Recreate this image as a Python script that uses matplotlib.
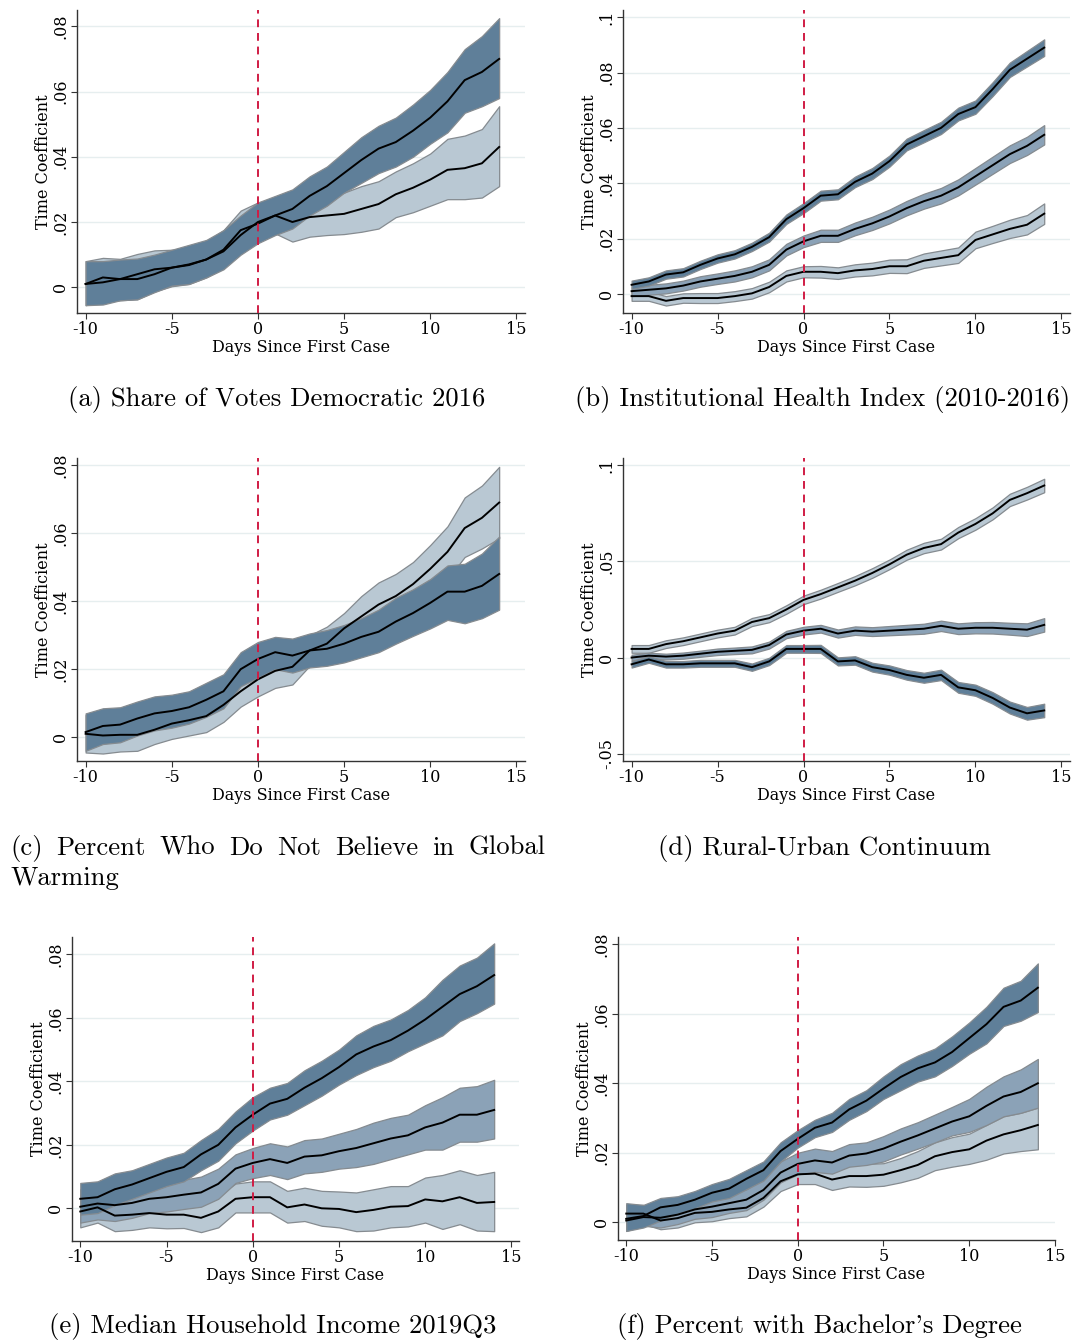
import matplotlib
matplotlib.use("Agg")
import matplotlib.pyplot as plt
import numpy as np

W, H = 1074, 1343

days = list(range(-10, 15))

DARK = "#5f7f99"
MED = "#8ba2b7"
LIGHT = "#b9c8d3"
EDGE = "#858b90"
RED = "#d01c44"

# ---- (a) Share of Votes Democratic 2016 ----
a_dark_mean = [.001, .0015, .0025, .004, .0055, .006, .007, .0085, .011, .016, .020, .022, .024,
               .028, .031, .035, .039, .0425, .0445, .048, .052, .057, .0635, .066, .070]
a_dark_hi = [.008, .008, .0085, .0088, .010, .0115, .013, .0145, .0175, .022, .026, .028, .030,
             .034, .037, .0415, .046, .0495, .052, .056, .0605, .066, .073, .077, .0825]
a_dark_lo = [-.0055, -.0053, -.004, -.0037, -.0015, .0005, .001, .003, .0055, .010, .0135, .016, .018,
             .022, .025, .029, .032, .035, .037, .040, .044, .0475, .0535, .0555, .058]
a_light_mean = [.001, .003, .0025, .0025, .004, .006, .0068, .0085, .0115, .0175, .0195, .022, .020,
                .0215, .022, .0225, .024, .0255, .0285, .0305, .033, .036, .0365, .038, .043]
a_light_hi = [.008, .009, .0087, .0102, .0113, .0115, .0118, .014, .0175, .0235, .026, .027, .0245,
              .026, .0275, .029, .031, .0325, .0355, .038, .041, .0455, .0465, .0485, .0555]
a_light_lo = [-.0055, -.0045, -.004, -.0037, -.0013, .0003, .001, .003, .0058, .011, .014, .0165, .014,
              .0155, .016, .0163, .017, .018, .0215, .023, .025, .027, .027, .0275, .031]

# ---- (b) Institutional Health Index (2010-2016) ----
b_top_mean = [.0033, .0045, .007, .0078, .0105, .0128, .0143, .017, .0205, .027, .031, .0355, .036,
              .0405, .0435, .048, .054, .057, .060, .065, .0675, .074, .081, .085, .089]
b_top_se = [.0015, .0015, .0015, .0015, .0015, .0015, .0015, .0015, .0016, .0017, .0018, .0018, .0018,
            .0019, .002, .002, .0021, .0022, .0022, .0023, .0024, .0025, .0026, .0028, .003]
b_mid_mean = [.001, .0015, .002, .003, .0045, .0055, .0065, .008, .0105, .016, .019, .021, .021,
              .0235, .0255, .028, .031, .0335, .0355, .0385, .0425, .0465, .0505, .0535, .0575]
b_mid_se = [.0018, .0018, .0018, .0018, .0019, .0019, .002, .002, .002, .0021, .0021, .0022, .0022,
            .0023, .0024, .0025, .0026, .0027, .0028, .0029, .003, .0031, .0032, .0033, .0035]
b_low_mean = [-.0008, -.0008, -.0025, -.0015, -.0015, -.0015, -.0008, .0002, .0025, .0065, .008, .008, .0075,
              .0085, .009, .010, .010, .012, .013, .014, .0195, .0215, .0235, .025, .029]
b_low_se = [.0017, .0017, .0017, .0017, .0018, .0018, .0018, .0019, .0019, .002, .002, .0021, .0021,
            .0022, .0023, .0024, .0025, .0026, .0027, .0028, .003, .0031, .0033, .0035, .0037]

# ---- (c) Percent Who Do Not Believe in Global Warming ----
c_dark_mean = [.0015, .0033, .0037, .0055, .007, .0077, .0088, .011, .0135, .020, .023, .025, .024,
               .0255, .026, .0275, .0295, .031, .034, .0365, .0395, .0428, .0428, .0445, .048]
c_dark_hi = [.007, .0085, .0088, .0105, .012, .0125, .0135, .016, .0185, .025, .028, .0295, .029,
             .0305, .0315, .033, .035, .0375, .041, .0435, .0465, .0505, .051, .054, .059]
c_dark_lo = [-.004, -.002, -.0015, .0005, .002, .0028, .004, .006, .0085, .015, .0175, .020, .019,
             .0205, .021, .022, .0235, .025, .0275, .0298, .032, .0345, .0335, .035, .0375]
c_light_mean = [.001, .0005, .0007, .0007, .0022, .004, .005, .0062, .0095, .0135, .017, .0195, .0207,
                .0255, .0275, .032, .0355, .039, .0415, .045, .0495, .0545, .0615, .0645, .069]
c_light_hi = [.0065, .007, .0075, .0085, .0095, .0105, .012, .0115, .014, .018, .022, .024, .026,
              .030, .0325, .0365, .0415, .0455, .048, .0515, .0565, .062, .0705, .074, .0795]
c_light_lo = [-.0045, -.0048, -.0042, -.004, -.002, -.0005, .0005, .0015, .0045, .009, .012, .0145, .0155,
              .021, .022, .0275, .030, .0325, .0355, .0385, .042, .0465, .053, .0555, .0585]

# ---- (d) Rural-Urban Continuum ----
d_top_mean = [.0045, .0045, .007, .0085, .0105, .0125, .014, .0185, .0205, .025, .030, .033, .0365,
              .040, .044, .0485, .0535, .057, .059, .065, .0695, .075, .082, .0855, .0895]
d_top_se = [.002, .002, .002, .002, .002, .002, .002, .0021, .0021, .0022, .0022, .0023, .0023,
            .0024, .0025, .0025, .0026, .0027, .0028, .0029, .003, .0031, .0032, .0033, .0035]
d_mid_mean = [0, .001, .0005, .001, .002, .003, .0035, .004, .0065, .012, .014, .015, .0125,
              .014, .0135, .014, .0145, .015, .0165, .015, .0155, .0155, .015, .0145, .017]
d_mid_se = [.0015, .0015, .0015, .0016, .0016, .0017, .0017, .0018, .0018, .0019, .002, .002, .0021,
            .0022, .0023, .0024, .0025, .0026, .0027, .0028, .0029, .003, .0031, .0033, .0035]
d_low_mean = [-.0035, -.001, -.0035, -.0035, -.003, -.003, -.003, -.005, -.002, .0045, .0045, .0045, -.002,
              -.0015, -.005, -.0065, -.009, -.0105, -.009, -.0155, -.017, -.021, -.026, -.029, -.0275]
d_low_se = [.0017, .0017, .0017, .0017, .0018, .0018, .0018, .0019, .0019, .002, .002, .0021, .0021,
            .0022, .0023, .0024, .0025, .0026, .0027, .0028, .0029, .003, .0031, .0033, .0035]

# ---- (e) Median Household Income 2019Q3 ----
e_dark_mean = [.003, .0035, .006, .0075, .0095, .0115, .013, .017, .020, .0255, .0295, .033, .0345,
               .038, .041, .0445, .0485, .051, .053, .056, .0595, .0635, .0675, .070, .0735]
e_dark_hi = [.008, .0085, .011, .012, .014, .016, .0175, .0215, .025, .0305, .035, .038, .0395,
             .0435, .0465, .050, .0545, .0575, .0595, .0625, .0665, .072, .0765, .079, .0835]
e_dark_lo = [-.002, -.0015, .001, .003, .005, .007, .0085, .012, .015, .0205, .0245, .028, .0295,
             .0325, .0355, .039, .042, .0445, .0465, .0495, .052, .0545, .059, .0615, .0645]
e_mid_mean = [.0005, .0015, .001, .0017, .003, .0035, .0043, .005, .0077, .0125, .0143, .0155, .0143,
              .0163, .0167, .018, .019, .0205, .022, .023, .0255, .027, .0295, .0295, .031]
e_mid_hi = [.006, .0065, .006, .0065, .0075, .0085, .009, .010, .0125, .017, .019, .0205, .0195,
            .0215, .022, .0235, .025, .027, .0285, .0295, .0325, .035, .038, .0385, .0405]
e_mid_lo = [-.0045, -.0035, -.004, -.003, -.0015, -.001, -.0002, .0005, .003, .008, .0095, .0105, .0092,
            .011, .0115, .0125, .013, .014, .0155, .017, .0185, .0185, .021, .021, .022]
e_light_mean = [-.001, .0003, -.0023, -.002, -.0015, -.002, -.002, -.003, -.001, .003, .0035, .0035, .0003,
                .0012, 0, -.0002, -.0012, -.0005, .0005, .0007, .0028, .0022, .0035, .0017, .002]
e_light_hi = [.0045, .0055, .003, .0035, .0035, .0035, .0038, .0025, .004, .0078, .0085, .0085, .0055,
              .0065, .0055, .0053, .005, .006, .007, .007, .0097, .0105, .012, .0105, .0115]
e_light_lo = [-.006, -.0045, -.0072, -.0068, -.006, -.0063, -.0062, -.0075, -.006, -.0013, -.0013, -.0013, -.0045,
              -.004, -.0055, -.006, -.0072, -.007, -.006, -.0057, -.0045, -.0065, -.005, -.007, -.0072]

# ---- (f) Percent with Bachelor's Degree ----
f_dark_mean = [.001, .0018, .0043, .005, .0065, .0085, .0097, .0125, .015, .0205, .024, .0272, .0287,
               .0325, .035, .0385, .0418, .0443, .046, .049, .053, .057, .062, .0638, .0675]
f_dark_hi = [.0055, .005, .007, .0075, .009, .011, .0125, .015, .0175, .023, .0265, .0295, .0315,
             .0355, .038, .042, .0455, .048, .050, .0535, .0575, .062, .0675, .0695, .0745]
f_dark_lo = [-.0025, -.0015, .0005, .0025, .004, .006, .007, .0095, .012, .0175, .0215, .0245, .026,
             .0295, .032, .0355, .038, .0405, .042, .045, .0485, .0515, .0565, .058, .0605]
f_mid_mean = [.0005, .0015, .0013, .0022, .0037, .0045, .0055, .0065, .0093, .0143, .0168, .0178, .0172,
              .0192, .0198, .0212, .0232, .025, .027, .029, .0305, .0335, .0362, .0375, .040]
f_mid_hi = [.005, .0045, .0045, .005, .0065, .0075, .0085, .0095, .0125, .0175, .020, .0212, .0205,
            .0225, .023, .0248, .027, .0288, .031, .0332, .0355, .039, .042, .044, .047]
f_mid_lo = [-.0025, -.001, -.0015, -.0005, .001, .0015, .0027, .0035, .0065, .0115, .0138, .0145, .014,
            .016, .0165, .0175, .0195, .0212, .023, .025, .026, .028, .0305, .0315, .033]
f_light_mean = [.0025, .0025, .0005, .0012, .0027, .003, .0037, .0042, .007, .0118, .0138, .014, .0123,
                .0133, .0133, .0137, .015, .0165, .019, .0202, .021, .0235, .0253, .0265, .028]
f_light_hi = [.005, .005, .0035, .004, .0055, .006, .0065, .007, .0095, .0145, .0165, .017, .0155,
              .0165, .0168, .017, .0185, .0205, .023, .0245, .0255, .028, .0305, .0315, .033]
f_light_lo = [-.0005, -.0005, -.002, -.0015, 0, .0003, .0012, .0017, .0045, .009, .011, .011, .0093,
              .0103, .0102, .0105, .0115, .0128, .015, .016, .0168, .018, .0198, .0205, .021]

captions = ["(a) Share of Votes Democratic 2016",
            "(b) Institutional Health Index (2010-2016)",
            "(c) Percent Who Do Not Believe in Global Warming",
            "(d) Rural-Urban Continuum",
            "(e) Median Household Income 2019Q3",
            "(f) Percent with Bachelor's Degree"]

x_ticks = [-10, -5, 0, 5, 10, 15]
x_ticklabels = ["-10", "-5", "0", "5", "10", "15"]

plt.rcParams['font.family'] = 'DejaVu Serif'
fig = plt.figure(figsize=(W / 100, H / 100), dpi=100)


def make_ax(l, r, t, b):
    return fig.add_axes([l / W, 1 - b / H, (r - l) / W, (b - t) / H])


def band(ax, lo, hi, color):
    ax.fill_between(days, lo, hi, facecolor=color, edgecolor=EDGE, linewidth=0.9, zorder=2)


def style(ax, ylim, yticks, ylabels, xlim=(-10.5, 15.5)):
    ax.set_xlim(*xlim)
    ax.set_ylim(*ylim)
    ax.set_xticks(x_ticks)
    ax.set_xticklabels(x_ticklabels)
    ax.set_yticks(yticks)
    ax.set_yticklabels(ylabels, rotation=90, va='center')
    ax.tick_params(labelsize=11.5, length=4, width=0.8, color='#333333')
    ax.tick_params(axis='x', pad=1.5)
    ax.tick_params(axis='y', pad=1.5)
    for s in ['top', 'right']:
        ax.spines[s].set_visible(False)
    for s in ['left', 'bottom']:
        ax.spines[s].set_linewidth(1.0)
        ax.spines[s].set_color('#333333')
    ax.grid(axis='y', color='#e6eeef', linewidth=1.0, zorder=0)
    ax.set_axisbelow(True)
    ax.axvline(0, color=RED, linestyle=(0, (4, 3)), linewidth=1.4, zorder=5)
    ax.set_xlabel("Days Since First Case", fontsize=11.5, labelpad=1)
    ax.set_ylabel("Time Coefficient", fontsize=11.5, labelpad=0)


def lines(ax, *means):
    for m in means:
        ax.plot(days, m, color='black', linewidth=1.4, zorder=4)


# (a)
ax = make_ax(77, 525, 10, 313)
band(ax, a_light_lo, a_light_hi, LIGHT)
band(ax, a_dark_lo, a_dark_hi, DARK)
lines(ax, a_light_mean, a_dark_mean)
style(ax, (-0.0079, 0.085), [0, .02, .04, .06, .08], ["0", ".02", ".04", ".06", ".08"])

# (b)
ax = make_ax(623, 1070, 10, 313)
for m, se, c in [(b_low_mean, b_low_se, LIGHT), (b_mid_mean, b_mid_se, MED), (b_top_mean, b_top_se, DARK)]:
    m, se = np.array(m), np.array(se)
    band(ax, m - se, m + se, c)
lines(ax, b_low_mean, b_mid_mean, b_top_mean)
style(ax, (-0.0069, 0.1026), [0, .02, .04, .06, .08, .1], ["0", ".02", ".04", ".06", ".08", ".1"])

# (c)
ax = make_ax(77, 525, 458, 761)
band(ax, c_light_lo, c_light_hi, LIGHT)
band(ax, c_dark_lo, c_dark_hi, DARK)
lines(ax, c_light_mean, c_dark_mean)
style(ax, (-0.007, 0.0821), [0, .02, .04, .06, .08], ["0", ".02", ".04", ".06", ".08"])

# (d)
ax = make_ax(623, 1070, 458, 761)
for m, se, c in [(d_top_mean, d_top_se, LIGHT), (d_mid_mean, d_mid_se, MED), (d_low_mean, d_low_se, DARK)]:
    m, se = np.array(m), np.array(se)
    band(ax, m - se, m + se, c)
lines(ax, d_top_mean, d_mid_mean, d_low_mean)
style(ax, (-0.0538, 0.1038), [-.05, 0, .05, .1], ["-.05", "0", ".05", ".1"])

# (e)
ax = make_ax(72, 519, 937, 1241)
band(ax, e_light_lo, e_light_hi, LIGHT)
band(ax, e_mid_lo, e_mid_hi, MED)
band(ax, e_dark_lo, e_dark_hi, DARK)
lines(ax, e_light_mean, e_mid_mean, e_dark_mean)
style(ax, (-0.0103, 0.0855), [0, .02, .04, .06, .08], ["0", ".02", ".04", ".06", ".08"],
      xlim=(-10.48, 15.44))

# (f)
ax = make_ax(618, 1055, 937, 1240)
band(ax, f_light_lo, f_light_hi, LIGHT)
band(ax, f_mid_lo, f_mid_hi, MED)
band(ax, f_dark_lo, f_dark_hi, DARK)
lines(ax, f_light_mean, f_mid_mean, f_dark_mean)
style(ax, (-0.0051, 0.0821), [0, .02, .04, .06, .08], ["0", ".02", ".04", ".06", ".08"],
      xlim=(-10.48, 14.95))

# ---- captions ----
cap_kw = dict(family='cmr10', fontsize=19.2, va='center')
fig.text(277 / W, 1 - 400 / H, captions[0], ha='center', **cap_kw)
fig.text(823 / W, 1 - 400 / H, captions[1], ha='center', **cap_kw)
fig.text(824 / W, 1 - 848 / H, captions[3], ha='center', **cap_kw)
fig.text(273 / W, 1 - 1327 / H, captions[4], ha='center', **cap_kw)
fig.text(819 / W, 1 - 1327 / H, captions[5], ha='center', **cap_kw)

# (c) caption is justified over two lines
words = captions[2].split()
first, second = words[:-1], words[-1]
r = fig.canvas.get_renderer()
texts = [fig.text(0, 1 - 848 / H, w, ha='left', **cap_kw) for w in first]
widths = [t.get_window_extent(r).width for t in texts]
x0, x1 = 10, 545
gap = (x1 - x0 - sum(widths)) / (len(first) - 1)
x = x0
for t, w in zip(texts, widths):
    t.set_x(x / W)
    x += w + gap
fig.text(x0 / W, 1 - 878 / H, second, ha='left', **cap_kw)

fig.savefig("out.png", dpi=100)
